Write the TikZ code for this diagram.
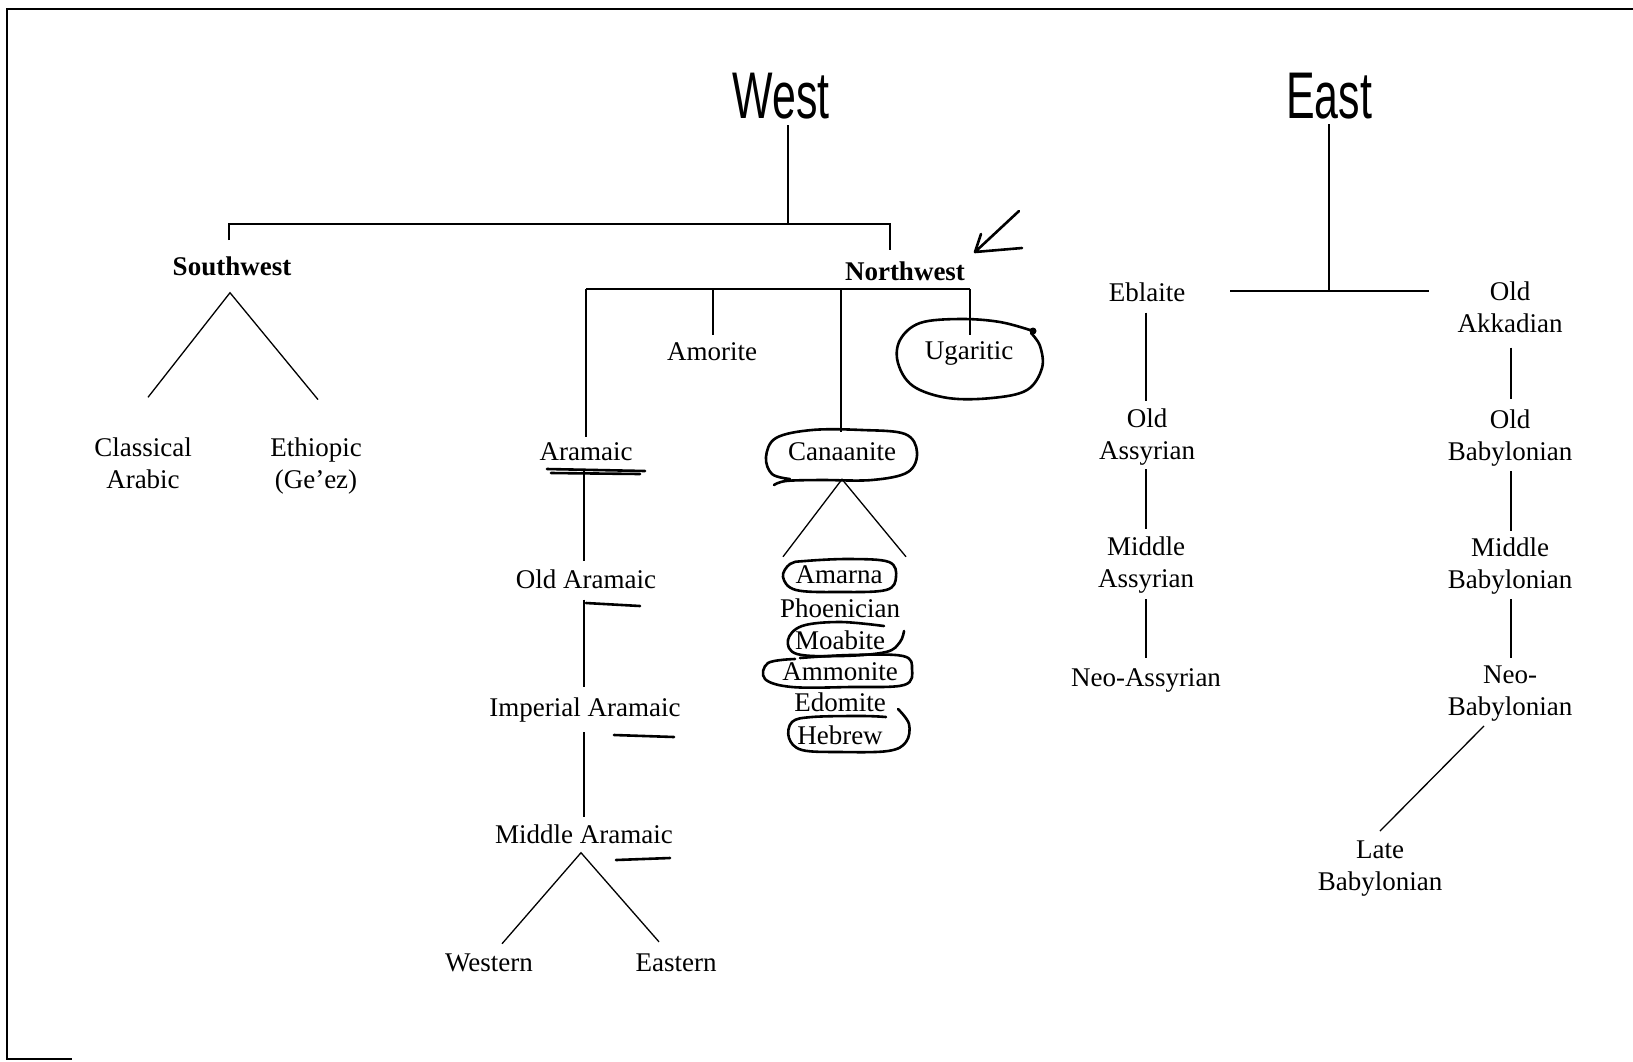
\documentclass[tikz,border=0pt]{standalone}
\usepackage{fontspec}
\usepackage{graphicx}
\setmainfont{Liberation Serif}
\newfontfamily\headfont{Liberation Sans}
\usetikzlibrary{calc}
\begin{document}
\begin{tikzpicture}[x=1pt,y=-1pt,
  lab/.style={inner sep=0pt, align=center, font=\fontsize{27}{32}\selectfont},
  boldlab/.style={inner sep=0pt, align=center, font=\fontsize{27}{32}\selectfont\bfseries},
  head/.style={inner sep=0pt, font=\headfont\fontsize{66}{66}\selectfont},
  tree/.style={line width=1.3pt},
  pen/.style={line width=2.6pt, line cap=round, line join=round},
  frame/.style={line width=2.4pt}]
\useasboundingbox (0,0) rectangle (1633,1061);
% frame
\coordinate (ftl) at (7,9);
\coordinate (ftr) at (1633,9);
\coordinate (fbl) at (7,1059);
\coordinate (fbr) at (72,1059);
\draw[frame] (ftr) -- (ftl) -- (fbl) -- (fbr);

% headings
\node[head] (west) at (781,96) {\scalebox{0.65}[1]{West}};
\node[head] (east) at (1329,96) {\scalebox{0.65}[1]{East}};

% West branch nodes
\node[boldlab] (sw) at (232,266) {Southwest};
\node[boldlab] (nw) at (905,271) {Northwest};
\node[lab] (carab) at (143,463) {Classical\\Arabic};
\node[lab] (ethi) at (316,466) {Ethiopic\\(Ge’ez)};
\node[lab] (amor) at (712,352) {Amorite};
\node[lab] (ugar) at (969,353) {Ugaritic};
\node[lab] (aram) at (586,452) {Aramaic};
\node[lab] (cana) at (842,452) {Canaanite};
\node[lab] (oaram) at (586,579) {Old Aramaic};
\node[lab] (iaram) at (585,710) {Imperial Aramaic};
\node[lab] (maram) at (584,834) {Middle Aramaic};
\node[lab] (western) at (489,963) {Western};
\node[lab] (eastern) at (676,963) {Eastern};
\node[lab] (amarna) at (839,575) {Amarna};
\node[lab] (phoen) at (840,608) {Phoenician};
\node[lab] (moab) at (840,640) {Moabite};
\node[lab] (ammon) at (840,672) {Ammonite};
\node[lab] (edom) at (840,702) {Edomite};
\node[lab] (hebrew) at (840,735) {Hebrew};

% East branch nodes
\node[lab] (ebla) at (1147,292) {Eblaite};
\node[lab] (oakk) at (1510,307) {Old\\Akkadian};
\node[lab] (oass) at (1147,437) {Old\\Assyrian};
\node[lab] (mass) at (1146,565) {Middle\\Assyrian};
\node[lab] (nass) at (1146,680) {Neo-Assyrian};
\node[lab] (obab) at (1510,438) {Old\\Babylonian};
\node[lab] (mbab) at (1510,566) {Middle\\Babylonian};
\node[lab] (nbab) at (1510,694) {Neo-\\Babylonian};
\node[lab] (lbab) at (1380,869) {Late\\Babylonian};

% West bracket
\coordinate (wj) at (788,224);
\coordinate (swd) at (229,240);
\coordinate (nwd) at (890,250);
\draw[tree] ($(west.south -| wj)+(0,6)$) -- (wj);
\draw[tree] (swd) |- (wj) -| (nwd);

% Southwest
\draw[tree] ($(carab.north)+(5,-40)$) -- ($(sw.south)+(-2,17)$) -- ($(ethi.north)+(2,-38)$);

% Northwest bracket
\coordinate (nwL) at (586,289);
\coordinate (nwR) at (970,289);
\draw[tree] (nwL) -- (nwR);
\draw[tree] (nwL) -- ($(aram.north)+(0,-6)$);
\draw[tree] ($(amor.north |- nwL)+(1,0)$) -- ($(amor.north)+(1,-8)$);
\draw[tree] ($(cana.north |- nwL)+(-1,0)$) -- ($(cana.north)+(-1,-11)$);
\draw[tree] (nwR) -- ($(ugar.north)+(1,-6)$);

% Aramaic chain
\draw[tree] ($(aram.south)+(-2,10)$) -- ($(oaram.north)+(-2,-8)$);
\draw[tree] ($(oaram.south)+(-2,11)$) -- ($(iaram.north)+(-1,-11)$);
\draw[tree] ($(iaram.south)+(-1,10)$) -- ($(maram.north)+(0,-7)$);
\draw[tree] ($(western.north)+(13,-10)$) -- ($(maram.south)+(-3,9)$) -- ($(eastern.north)+(-17,-12)$);

% Canaanite
\draw[tree] ($(amarna.north)+(-56,-9)$) -- ($(cana.south)+(0,18)$) -- ($(amarna.north)+(67,-9)$);

% East bracket
\coordinate (ej) at (1329,291);
\coordinate (eL) at (1230,291);
\coordinate (eR) at (1429,291);
\draw[tree] ($(east.south -| ej)+(0,5)$) -- (ej);
\draw[tree] (eL) -- (eR);

% Assyrian chain
\draw[tree] ($(ebla.south)+(-1,11)$) -- ($(oass.north)+(-1,-8)$);
\draw[tree] ($(oass.south)+(-1,4)$) -- ($(mass.north)+(0,-8)$);
\draw[tree] ($(mass.south)+(0,6)$) -- ($(nass.north)+(0,-10)$);

% Babylonian chain
\draw[tree] ($(oakk.south)+(1,15)$) -- ($(obab.north)+(1,-11)$);
\draw[tree] ($(obab.south)+(1,5)$) -- ($(mbab.north)+(1,-7)$);
\draw[tree] ($(mbab.south)+(1,5)$) -- ($(nbab.north)+(1,-8)$);
\draw[tree] ($(nbab.south)+(-26,4)$) -- ($(lbab.north)+(0,-10)$);

% ---- handwritten annotations ----
% arrow near Northwest
\coordinate (atip) at (975,252);
\draw[pen] (1019,211) -- (atip) -- (1022,248);
\draw[pen] (atip) -- (981,234);
% Ugaritic loop
\fill (1033,331) circle (3.5);
\draw[pen] plot[smooth, tension=0.6] coordinates {(1033,331) (1000,322) (960,319) (920,323) (900,340) (898,363) (913,386) (948,398) (992,398) (1027,390) (1042,368) (1040,346) (1031,333)};
% Canaanite loop
\draw[pen] plot[smooth, tension=0.6] coordinates {(790,479) (772,474) (766,457) (776,438) (812,430) (862,430) (905,434) (917,452) (908,472) (872,480) (820,480) (786,481) (774,485)};
% Amarna loop
\draw[pen] plot[smooth cycle, tension=0.6] coordinates {(805,561) (850,559) (889,562) (896,577) (886,590) (840,592) (796,590) (783,577) (790,564)};
% Moabite loop
\draw[pen] plot[smooth, tension=0.6] coordinates {(884,626) (840,622) (802,626) (788,640) (797,654) (842,656) (886,652) (900,642) (904,631)};
% Ammonite loop
\draw[pen] plot[smooth, tension=0.6] coordinates {(800,658) (850,655) (903,656) (912,669) (904,685) (850,687) (792,687) (765,679) (768,663) (795,659)};
% Hebrew loop
\draw[pen] plot[smooth, tension=0.6] coordinates {(898,709) (909,724) (906,742) (888,751) (840,752) (802,750) (789,738) (792,722) (812,717) (862,716) (886,717)};
% underlines
\draw[pen] (547,469) -- (645,471);
\draw[pen] (551,473) -- (640,474);
\draw[pen] (586,603) -- (640,606);
\draw[pen] (614,735) -- (674,737);
\draw[pen] (616,860) -- (670,858);
\end{tikzpicture}
\end{document}
